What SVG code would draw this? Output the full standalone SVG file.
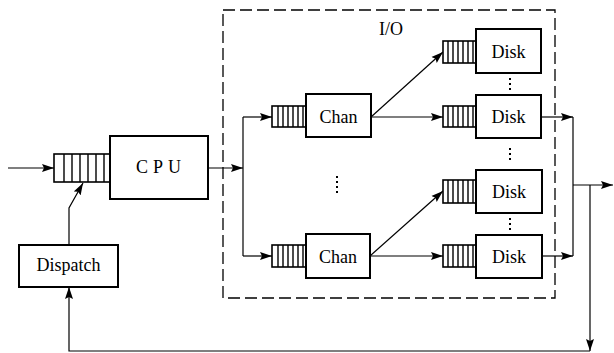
<svg xmlns="http://www.w3.org/2000/svg" width="614" height="353" viewBox="0 0 614 353">
<defs>
<style>
.box{fill:#fff;stroke:#000;stroke-width:2}
.q{fill:#fff;stroke:#000;stroke-width:1.6}
.qd{stroke:#000;stroke-width:1.4}
.ln{fill:none;stroke:#000;stroke-width:1.2}
.lbl{font-family:"Liberation Serif","Times New Roman",serif;font-size:18px;fill:#000;text-anchor:middle}
.dots{stroke:#000;stroke-width:2;stroke-dasharray:2 3}
</style>
<marker id="ah" markerUnits="userSpaceOnUse" markerWidth="13" markerHeight="9" refX="12" refY="4.5" orient="auto">
<path d="M0,0.5 L12,4.5 L0,8.5 L2,4.5 Z" fill="#000"/>
</marker>
</defs>
<rect x="0" y="0" width="614" height="353" fill="#fff"/>
<rect id="io-region" x="223" y="10" width="332" height="288" fill="none" stroke="#000" stroke-width="1.3" stroke-dasharray="12 5"/>
<text class="lbl" x="391" y="35">I/O</text>
<g id="connectors">
<line class="ln" x1="8" y1="168" x2="54" y2="168" marker-end="url(#ah)"/>
<line class="ln" x1="208" y1="168" x2="243" y2="168" marker-end="url(#ah)"/>
<line class="ln" x1="243" y1="117" x2="243" y2="256"/>
<line class="ln" x1="243" y1="117" x2="272" y2="117" marker-end="url(#ah)"/>
<line class="ln" x1="243" y1="256" x2="272" y2="256" marker-end="url(#ah)"/>
<line class="ln" x1="371" y1="117" x2="443" y2="52" marker-end="url(#ah)"/>
<line class="ln" x1="371" y1="117" x2="443" y2="117" marker-end="url(#ah)"/>
<line class="ln" x1="370" y1="256" x2="443" y2="191" marker-end="url(#ah)"/>
<line class="ln" x1="370" y1="256" x2="443" y2="256" marker-end="url(#ah)"/>
<line class="ln" x1="541" y1="117" x2="573" y2="117" marker-end="url(#ah)"/>
<line class="ln" x1="542" y1="256" x2="573" y2="256" marker-end="url(#ah)"/>
<line class="ln" x1="573" y1="117" x2="573" y2="256"/>
<line class="ln" x1="573" y1="185" x2="613" y2="185" marker-end="url(#ah)"/>
<line class="ln" x1="590" y1="185" x2="590" y2="351" marker-end="url(#ah)"/>
<polyline class="ln" points="590,351 69,351 69,287" marker-end="url(#ah)"/>
<polyline class="ln" points="69,245 69,208 83,183" marker-end="url(#ah)"/>
</g>
<g id="cpu-queue">
<rect class="q" x="54" y="154" width="56" height="28"/>
<path class="qd" d="M64,154V182M72,154V182M80,154V182M88,154V182M96,154V182M104,154V182"/>
</g>
<g id="cpu">
<rect class="box" x="110" y="136" width="98" height="63"/>
<text class="lbl" x="161" y="173" letter-spacing="5">CPU</text>
</g>
<g id="dispatch">
<rect class="box" x="19" y="245" width="99" height="42"/>
<text class="lbl" x="68.5" y="271">Dispatch</text>
</g>
<g id="chan1">
<rect class="q" x="272" y="106" width="34" height="21"/>
<path class="qd" d="M278,106V127M283,106V127M288,106V127M293,106V127M298,106V127M303,106V127"/>
<rect class="box" x="306" y="94" width="65" height="43"/>
<text class="lbl" x="338.5" y="123">Chan</text>
</g>
<g id="chan2">
<rect class="q" x="272" y="245" width="34" height="22"/>
<path class="qd" d="M278,245V267M283,245V267M288,245V267M293,245V267M298,245V267M303,245V267"/>
<rect class="box" x="306" y="234" width="64" height="44"/>
<text class="lbl" x="338" y="263">Chan</text>
</g>
<line class="dots" x1="337" y1="176" x2="337" y2="196"/>
<g id="disk1">
<rect class="q" x="443" y="41" width="33" height="22"/>
<path class="qd" d="M448,41V63M453,41V63M458,41V63M463,41V63M468,41V63M473,41V63"/>
<rect class="box" x="476" y="29" width="65" height="44"/>
<text class="lbl" x="508.5" y="58">Disk</text>
</g>
<g id="disk2">
<rect class="q" x="443" y="106" width="33" height="21"/>
<path class="qd" d="M448,106V127M453,106V127M458,106V127M463,106V127M468,106V127M473,106V127"/>
<rect class="box" x="476" y="95" width="65" height="43"/>
<text class="lbl" x="508.5" y="123">Disk</text>
</g>
<g id="disk3">
<rect class="q" x="443" y="180" width="33" height="23"/>
<path class="qd" d="M448,180V203M453,180V203M458,180V203M463,180V203M468,180V203M473,180V203"/>
<rect class="box" x="476" y="170" width="66" height="43"/>
<text class="lbl" x="509" y="198">Disk</text>
</g>
<g id="disk4">
<rect class="q" x="443" y="245" width="33" height="22"/>
<path class="qd" d="M448,245V267M453,245V267M458,245V267M463,245V267M468,245V267M473,245V267"/>
<rect class="box" x="476" y="235" width="66" height="43"/>
<text class="lbl" x="509" y="263">Disk</text>
</g>
<line class="dots" x1="510" y1="78" x2="510" y2="93"/>
<line class="dots" x1="510" y1="148" x2="510" y2="163"/>
<line class="dots" x1="510" y1="218" x2="510" y2="233"/>
</svg>
